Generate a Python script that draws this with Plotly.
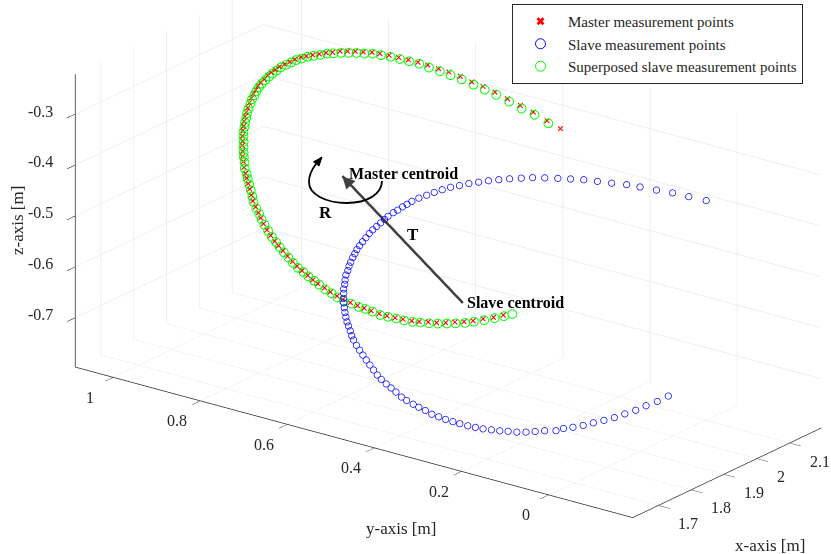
import math
import plotly.graph_objects as go

# ------------------------------------------------------------
# datos (coordenadas en metros)
# ------------------------------------------------------------
master_x = [2.121, 2.124, 2.127, 2.130, 2.132, 2.135, 2.137, 2.139, 2.141, 2.142,
            2.144, 2.145, 2.146, 2.147, 2.148, 2.148, 2.149, 2.150, 2.150, 2.150,
            2.150, 2.150, 2.150, 2.150, 2.149, 2.149, 2.148, 2.148, 2.147, 2.146,
            2.145, 2.144, 2.143, 2.142, 2.141, 2.140, 2.138, 2.137, 2.136, 2.134,
            2.133, 2.131, 2.129, 2.128, 2.126, 2.124, 2.123, 2.121, 2.119, 2.117,
            2.115, 2.113, 2.111, 2.109, 2.107, 2.105, 2.103, 2.101, 2.099, 2.097,
            2.095, 2.093, 2.091, 2.089, 2.087, 2.084, 2.082, 2.080, 2.078, 2.077,
            2.075, 2.073, 2.071, 2.069, 2.068, 2.066, 2.064, 2.063, 2.061, 2.060,
            2.059, 2.058, 2.056, 2.055, 2.054, 2.053, 2.053, 2.052, 2.051, 2.051,
            2.050, 2.050, 2.050, 2.050, 2.050, 2.050, 2.051, 2.051, 2.052, 2.053]
master_y = [0.349, 0.382, 0.416, 0.448, 0.479, 0.510, 0.539, 0.566, 0.594, 0.621,
            0.646, 0.672, 0.695, 0.718, 0.741, 0.763, 0.785, 0.804, 0.824, 0.842,
            0.860, 0.877, 0.894, 0.909, 0.924, 0.939, 0.953, 0.965, 0.978, 0.989,
            1.000, 1.011, 1.020, 1.029, 1.036, 1.043, 1.050, 1.056, 1.060, 1.064,
            1.068, 1.071, 1.073, 1.076, 1.077, 1.078, 1.078, 1.078, 1.078, 1.076,
            1.075, 1.073, 1.071, 1.068, 1.065, 1.060, 1.056, 1.051, 1.046, 1.041,
            1.036, 1.028, 1.020, 1.013, 1.005, 0.995, 0.985, 0.974, 0.964, 0.953,
            0.941, 0.928, 0.916, 0.903, 0.889, 0.876, 0.863, 0.847, 0.832, 0.816,
            0.802, 0.784, 0.766, 0.750, 0.733, 0.714, 0.696, 0.677, 0.658, 0.638,
            0.620, 0.599, 0.580, 0.559, 0.538, 0.517, 0.497, 0.474, 0.451, 0.429]
master_z = [-0.311, -0.304, -0.296, -0.291, -0.286, -0.281, -0.277, -0.275, -0.271, -0.269,
            -0.269, -0.268, -0.268, -0.269, -0.270, -0.271, -0.273, -0.275, -0.279, -0.282,
            -0.286, -0.290, -0.296, -0.300, -0.306, -0.311, -0.316, -0.321, -0.328, -0.335,
            -0.342, -0.349, -0.357, -0.364, -0.371, -0.380, -0.388, -0.396, -0.404, -0.412,
            -0.421, -0.430, -0.440, -0.449, -0.457, -0.466, -0.475, -0.483, -0.493, -0.502,
            -0.510, -0.520, -0.529, -0.538, -0.548, -0.558, -0.566, -0.575, -0.584, -0.594,
            -0.604, -0.613, -0.622, -0.630, -0.639, -0.648, -0.656, -0.664, -0.670, -0.677,
            -0.684, -0.691, -0.697, -0.702, -0.708, -0.713, -0.717, -0.721, -0.725, -0.729,
            -0.732, -0.734, -0.735, -0.736, -0.737, -0.738, -0.738, -0.737, -0.735, -0.734,
            -0.731, -0.727, -0.724, -0.719, -0.713, -0.707, -0.701, -0.692, -0.684, -0.675]

slave_x = [2.023, 2.028, 2.032, 2.036, 2.039, 2.042, 2.044, 2.046, 2.048, 2.049,
           2.050, 2.050, 2.050, 2.050, 2.049, 2.048, 2.047, 2.045, 2.043, 2.041,
           2.039, 2.036, 2.033, 2.030, 2.026, 2.022, 2.019, 2.016, 2.012, 2.009,
           2.005, 2.001, 1.997, 1.993, 1.989, 1.985, 1.980, 1.975, 1.970, 1.966,
           1.961, 1.956, 1.951, 1.946, 1.941, 1.935, 1.930, 1.925, 1.919, 1.914,
           1.908, 1.902, 1.897, 1.891, 1.886, 1.880, 1.875, 1.870, 1.864, 1.859,
           1.853, 1.847, 1.841, 1.835, 1.829, 1.823, 1.817, 1.812, 1.807, 1.802,
           1.797, 1.791, 1.787, 1.783, 1.779, 1.775, 1.771, 1.768, 1.765, 1.762,
           1.759, 1.757, 1.755, 1.753, 1.752, 1.751, 1.750, 1.750, 1.750, 1.750,
           1.751, 1.751, 1.754, 1.755, 1.757, 1.760, 1.763, 1.767, 1.771, 1.775,
           1.780, 1.785, 1.792]
slave_y = [-0.059, -0.015, 0.025, 0.065, 0.105, 0.138, 0.174, 0.208, 0.241, 0.272,
           0.302, 0.332, 0.360, 0.386, 0.412, 0.436, 0.459, 0.480, 0.501, 0.521,
           0.540, 0.557, 0.573, 0.588, 0.603, 0.616, 0.625, 0.633, 0.641, 0.649,
           0.658, 0.663, 0.669, 0.675, 0.681, 0.686, 0.690, 0.694, 0.697, 0.700,
           0.701, 0.702, 0.703, 0.703, 0.702, 0.702, 0.700, 0.697, 0.695, 0.691,
           0.687, 0.682, 0.677, 0.671, 0.665, 0.658, 0.651, 0.643, 0.635, 0.627,
           0.616, 0.604, 0.592, 0.580, 0.567, 0.554, 0.541, 0.528, 0.513, 0.498,
           0.483, 0.466, 0.451, 0.433, 0.417, 0.399, 0.381, 0.363, 0.345, 0.326,
           0.308, 0.288, 0.269, 0.250, 0.230, 0.210, 0.190, 0.170, 0.149, 0.128,
           0.107, 0.081, 0.066, 0.045, 0.023, 0.002, -0.020, -0.041, -0.062, -0.084,
           -0.104, -0.126, -0.146]
slave_z = [-0.328, -0.332, -0.335, -0.340, -0.344, -0.348, -0.354, -0.359, -0.364, -0.370,
           -0.376, -0.382, -0.388, -0.395, -0.402, -0.409, -0.416, -0.423, -0.430, -0.438,
           -0.445, -0.453, -0.461, -0.469, -0.477, -0.485, -0.492, -0.498, -0.505, -0.511,
           -0.519, -0.525, -0.532, -0.539, -0.546, -0.553, -0.561, -0.568, -0.575, -0.582,
           -0.589, -0.595, -0.603, -0.609, -0.616, -0.623, -0.631, -0.637, -0.644, -0.650,
           -0.657, -0.663, -0.670, -0.676, -0.682, -0.688, -0.693, -0.699, -0.705, -0.710,
           -0.716, -0.721, -0.726, -0.731, -0.736, -0.741, -0.746, -0.750, -0.754, -0.757,
           -0.760, -0.764, -0.766, -0.768, -0.769, -0.770, -0.772, -0.772, -0.772, -0.771,
           -0.770, -0.769, -0.767, -0.765, -0.762, -0.759, -0.755, -0.752, -0.747, -0.741,
           -0.735, -0.729, -0.722, -0.715, -0.707, -0.698, -0.689, -0.680, -0.669, -0.658,
           -0.646, -0.634, -0.621]

superposed_x = [2.123, 2.126, 2.129, 2.131, 2.134, 2.136, 2.138, 2.140, 2.141, 2.143, 2.144,
                2.145, 2.146, 2.147, 2.148, 2.148, 2.149, 2.149, 2.149, 2.149, 2.149,
                2.149, 2.149, 2.149, 2.148, 2.148, 2.147, 2.147, 2.146, 2.145, 2.144,
                2.143, 2.142, 2.141, 2.139, 2.138, 2.137, 2.135, 2.134, 2.132, 2.131,
                2.129, 2.127, 2.126, 2.124, 2.122, 2.120, 2.119, 2.117, 2.115, 2.113,
                2.111, 2.109, 2.107, 2.105, 2.103, 2.101, 2.099, 2.097, 2.094, 2.092,
                2.090, 2.088, 2.086, 2.084, 2.082, 2.080, 2.078, 2.076, 2.074, 2.072,
                2.070, 2.069, 2.067, 2.066, 2.064, 2.062, 2.061, 2.059, 2.058, 2.057,
                2.056, 2.055, 2.054, 2.053, 2.052, 2.052, 2.051, 2.050, 2.050, 2.050,
                2.050, 2.050, 2.050, 2.050, 2.050, 2.051, 2.052, 2.052, 2.053]
superposed_y = [0.379, 0.413, 0.445, 0.475, 0.507, 0.535, 0.562, 0.591, 0.617, 0.643, 0.669,
                0.692, 0.716, 0.738, 0.760, 0.782, 0.802, 0.821, 0.839, 0.857, 0.874,
                0.892, 0.907, 0.922, 0.937, 0.951, 0.963, 0.976, 0.987, 0.998, 1.009,
                1.018, 1.027, 1.034, 1.041, 1.048, 1.054, 1.058, 1.062, 1.066, 1.069,
                1.072, 1.074, 1.075, 1.076, 1.076, 1.077, 1.076, 1.074, 1.073, 1.071,
                1.069, 1.066, 1.064, 1.058, 1.054, 1.049, 1.044, 1.039, 1.034, 1.026,
                1.018, 1.011, 1.003, 0.993, 0.983, 0.972, 0.962, 0.951, 0.939, 0.927,
                0.914, 0.901, 0.888, 0.874, 0.861, 0.845, 0.830, 0.815, 0.800, 0.782,
                0.764, 0.748, 0.731, 0.712, 0.694, 0.675, 0.656, 0.636, 0.618, 0.598,
                0.578, 0.557, 0.537, 0.515, 0.495, 0.472, 0.449, 0.427, 0.409]
superposed_z = [-0.308, -0.300, -0.296, -0.290, -0.285, -0.282, -0.279, -0.276, -0.274, -0.273, -0.272,
                -0.270, -0.271, -0.272, -0.273, -0.275, -0.277, -0.281, -0.284, -0.288, -0.292,
                -0.297, -0.301, -0.307, -0.312, -0.317, -0.323, -0.329, -0.336, -0.343, -0.350,
                -0.358, -0.366, -0.373, -0.381, -0.389, -0.397, -0.405, -0.414, -0.422, -0.431,
                -0.441, -0.450, -0.459, -0.468, -0.476, -0.485, -0.494, -0.503, -0.512, -0.522,
                -0.530, -0.539, -0.550, -0.559, -0.567, -0.576, -0.586, -0.596, -0.605, -0.615,
                -0.623, -0.632, -0.640, -0.649, -0.658, -0.665, -0.672, -0.679, -0.686, -0.693,
                -0.699, -0.704, -0.709, -0.714, -0.718, -0.723, -0.727, -0.731, -0.734, -0.735,
                -0.737, -0.737, -0.738, -0.740, -0.739, -0.738, -0.737, -0.735, -0.732, -0.729,
                -0.725, -0.720, -0.715, -0.709, -0.702, -0.694, -0.685, -0.676, -0.668]

master_centroid = [2.104, 0.837, -0.512]
slave_centroid = [1.902, 0.408, -0.600]

x_ticks = [1.7, 1.8, 1.9, 2.0, 2.1]
x_ticktext = ["1.7", "1.8", "1.9", "2", "2.1"]
y_ticks = [0, 0.2, 0.4, 0.6, 0.8, 1]
y_ticktext = ["0", "0.2", "0.4", "0.6", "0.8", "1"]
z_ticks = [-0.7, -0.6, -0.5, -0.4, -0.3]
z_ticktext = ["-0.7", "-0.6", "-0.5", "-0.4", "-0.3"]

x_range = [1.622, 2.196]
y_range = [-0.193, 1.087]
z_range = [-0.797, -0.222]

# ------------------------------------------------------------
# figura
# ------------------------------------------------------------
W, H = 831, 554
FONT = "Liberation Serif"
INK = "#262626"


def px2paper(px, py):
    return px / W, 1 - py / H


fig = go.Figure()

fig.add_trace(go.Scatter3d(
    x=slave_x, y=slave_y, z=slave_z, mode="markers",
    name="Slave measurement points", showlegend=False,
    marker=dict(symbol="circle-open", size=4, color="#0000ff"),
))
fig.add_trace(go.Scatter3d(
    x=superposed_x, y=superposed_y, z=superposed_z, mode="markers",
    name="Superposed slave measurement points", showlegend=False,
    marker=dict(symbol="circle-open", size=5.5, color="#00ff00"),
))
fig.add_trace(go.Scatter3d(
    x=master_x, y=master_y, z=master_z, mode="markers",
    name="Master measurement points", showlegend=False,
    marker=dict(symbol="x", size=1.2, color="#ff0000"),
))
# vector de traslacion T
fig.add_trace(go.Scatter3d(
    x=[slave_centroid[0], master_centroid[0]],
    y=[slave_centroid[1], master_centroid[1]],
    z=[slave_centroid[2], master_centroid[2]],
    mode="lines", line=dict(color="#404040", width=5),
    showlegend=False, hoverinfo="skip",
))

# entradas de leyenda (solo simbolos, sin datos)
legend_items = [
    ("Master measurement points", "x", 7, "#ff0000"),
    ("Slave measurement points", "circle-open", 10, "#0000ff"),
    ("Superposed slave measurement points", "circle-open", 10, "#00ff00"),
]
for name, sym, size, col in legend_items:
    fig.add_trace(go.Scatter3d(
        x=[None], y=[None], z=[None], mode="markers", name=name,
        marker=dict(symbol=sym, size=size, color=col), hoverinfo="skip",
    ))

axis_common = dict(
    showbackground=False, showgrid=True, gridcolor="#e0e0e0", gridwidth=1,
    showline=True, linecolor=INK, linewidth=1.5, zeroline=False,
    ticks="outside", ticklen=14, tickwidth=1.2, tickcolor=INK,
    showticklabels=False,
    showspikes=False, autorange=False, title=dict(text=""),
)

ranges = [x_range[1] - x_range[0], y_range[1] - y_range[0], z_range[1] - z_range[0]]
rmax = max(ranges)

# vista (az, el) como en MATLAB, proyeccion ortografica
az = math.radians(-53.0)
el = math.radians(21.0)
d = [math.sin(az) * math.cos(el), -math.cos(az) * math.cos(el), math.sin(el)]
zoom = 2.52          # en ortografica el zoom va por aspectratio
dist = 2.5
shift_m = [-0.0496, 0.0377, -0.0442]
center = dict(x=shift_m[0] * zoom / rmax, y=shift_m[1] * zoom / rmax, z=shift_m[2] * zoom / rmax)
eye = dict(x=center["x"] + d[0] * dist, y=center["y"] + d[1] * dist, z=center["z"] + d[2] * dist)

# punta de flecha del vector T (direccion esclavo -> maestro)
tdx, tdy = 120.0, 128.0
tl = math.hypot(tdx, tdy)

tick_font = dict(family=FONT, size=16, color=INK)
scene_ann = [
    dict(x=master_centroid[0], y=master_centroid[1], z=master_centroid[2],
         text="", showarrow=True, ax=14 * tdx / tl, ay=14 * tdy / tl,
         arrowhead=2, arrowsize=1, arrowwidth=2.5, arrowcolor="#404040", standoff=0),
    dict(x=master_centroid[0], y=master_centroid[1], z=master_centroid[2],
         text="<b>Master centroid</b>", showarrow=False, xanchor="left", yanchor="middle",
         xshift=5, yshift=3, font=dict(family=FONT, size=16, color="black")),
    dict(x=slave_centroid[0], y=slave_centroid[1], z=slave_centroid[2],
         text="<b>Slave centroid</b>", showarrow=False, xanchor="left", yanchor="middle",
         xshift=2, font=dict(family=FONT, size=16, color="black")),
]
# etiquetas de los ejes, colocadas en los bordes del cubo como en MATLAB
for v, t in zip(z_ticks, z_ticktext):
    scene_ann.append(dict(x=x_range[0], y=y_range[1], z=v, text=t, showarrow=False,
                          xanchor="right", yanchor="middle", xshift=-20, yshift=3, font=tick_font))
for v, t in zip(y_ticks, y_ticktext):
    scene_ann.append(dict(x=x_range[0], y=v, z=z_range[0], text=t, showarrow=False,
                          xanchor="center", yanchor="middle", xshift=-23, yshift=-20, font=tick_font))
for v, t in zip(x_ticks, x_ticktext):
    scene_ann.append(dict(x=v, y=y_range[0], z=z_range[0], text=t, showarrow=False,
                          xanchor="left", yanchor="middle", xshift=18, yshift=-18, font=tick_font))

fig.update_layout(
    width=W, height=H,
    margin=dict(l=0, r=0, t=0, b=0),
    paper_bgcolor="white",
    font=dict(family=FONT, color=INK),
    scene=dict(
        domain=dict(x=[0, 1], y=[0, 1]),
        xaxis=dict(axis_common, range=x_range, tickvals=x_ticks, ticktext=x_ticktext),
        yaxis=dict(axis_common, range=y_range, tickvals=y_ticks, ticktext=y_ticktext),
        zaxis=dict(axis_common, range=z_range, tickvals=z_ticks, ticktext=z_ticktext),
        aspectmode="manual",
        aspectratio=dict(x=zoom * ranges[0] / rmax, y=zoom * ranges[1] / rmax, z=zoom * ranges[2] / rmax),
        camera=dict(eye=eye, center=center, up=dict(x=0, y=0, z=1),
                    projection=dict(type="orthographic")),
        annotations=scene_ann,
    ),
    legend=dict(
        x=803 / W, y=1 - 4 / H, xanchor="right", yanchor="top",
        bgcolor="white", bordercolor=INK, borderwidth=1, itemwidth=45,
        font=dict(family=FONT, size=15, color=INK),
    ),
)

# flecha curva R (decoracion en coordenadas de papel)
arc = [(382, 181), (382, 194), (367, 203), (347, 203), (325, 203), (309, 194),
       (309, 182), (309, 175), (312, 169), (316, 164)]
pts = [px2paper(*p) for p in arc]
path = "M {:.4f},{:.4f}".format(*pts[0])
for i in range(1, len(pts), 3):
    path += " C {:.4f},{:.4f} {:.4f},{:.4f} {:.4f},{:.4f}".format(*pts[i], *pts[i + 1], *pts[i + 2])
head = [px2paper(322, 157), px2paper(319, 166), px2paper(313.5, 161.8)]
head_path = "M {:.4f},{:.4f} L {:.4f},{:.4f} L {:.4f},{:.4f} Z".format(*head[0], *head[1], *head[2])
fig.add_shape(type="path", xref="paper", yref="paper", path=path,
              line=dict(color="black", width=1.8))
fig.add_shape(type="path", xref="paper", yref="paper", path=head_path,
              line=dict(color="black", width=1), fillcolor="black")

labels = [("<b>R</b>", 325, 212, 0, 17), ("<b>T</b>", 413, 234, 0, 17),
          ("x-axis [m]", 770, 545, 0, 17), ("y-axis [m]", 401, 528, 0, 17),
          ("z-axis [m]", 17, 221, -90, 17)]
for txt, px, py, ang, fs in labels:
    ax_, ay_ = px2paper(px, py)
    fig.add_annotation(x=ax_, y=ay_, xref="paper", yref="paper", text=txt, textangle=ang,
                       xanchor="center", yanchor="middle", showarrow=False,
                       font=dict(family=FONT, size=fs, color="black" if "<b>" in txt else INK))

# la pagina por defecto deja 8px de margen en <body>
fig.write_html("out.html", config={"displayModeBar": False},
               post_script="document.body.style.margin='0px';")
